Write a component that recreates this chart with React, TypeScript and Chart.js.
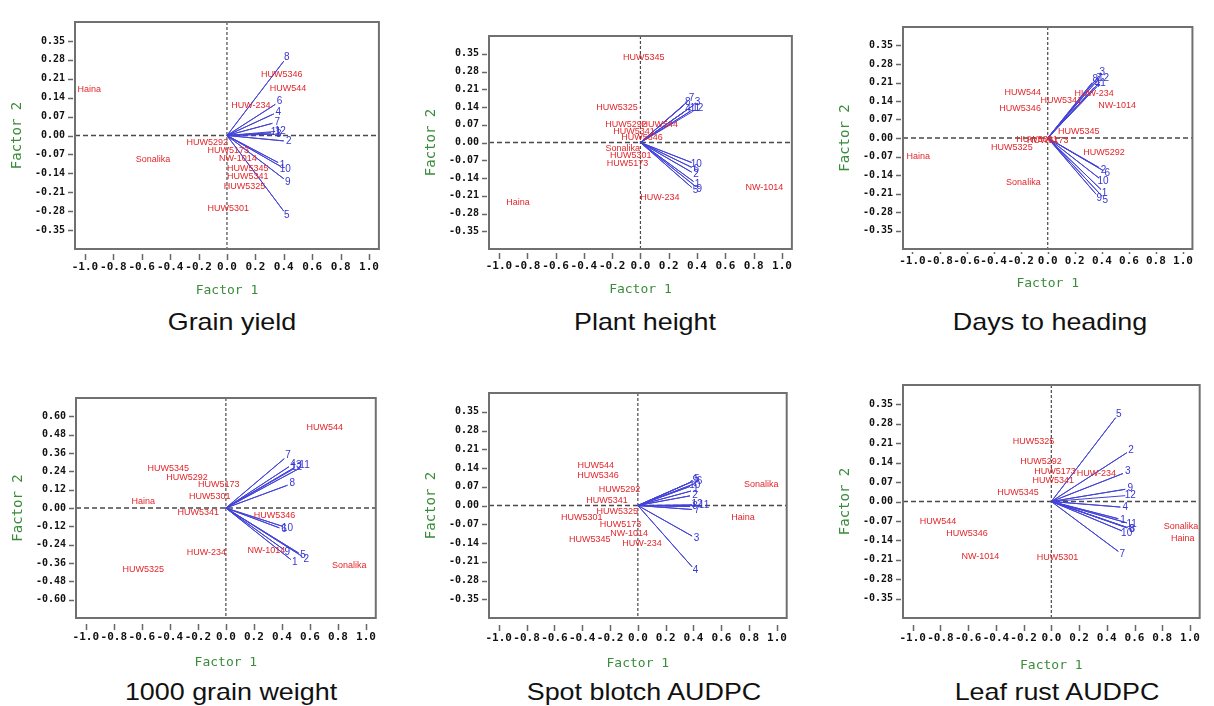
import React, { useEffect, useRef } from 'react';
import { Chart, registerables } from 'chart.js';

Chart.register(...registerables);

// ---------- shared labels ----------
const GENOTYPES = ['Haina', 'Sonalika', 'HUW544', 'HUW5346', 'HUW5345', 'HUW5325', 'HUW5292', 'HUW5173', 'HUW5301', 'HUW5341', 'HUW-234', 'NW-1014'];
const ENVIRONMENTS = ['1', '2', '3', '4', '5', '6', '7', '8', '9', '10', '11', '12'];

const X_TICKS = [-1.0, -0.8, -0.6, -0.4, -0.2, 0, 0.2, 0.4, 0.6, 0.8, 1.0];
const Y_TICKS_SMALL = [0.35, 0.28, 0.21, 0.14, 0.07, 0, -0.07, -0.14, -0.21, -0.28, -0.35];
const Y_TICKS_WIDE = [0.6, 0.48, 0.36, 0.24, 0.12, 0, -0.12, -0.24, -0.36, -0.48, -0.6];

// ---------- Grain yield ----------
const grainYieldGenoX = [-0.97, -0.52, 0.43, 0.386, 0.146, 0.123, -0.139, 0.009, 0.009, 0.146, 0.169, 0.077];
const grainYieldGenoY = [0.17, -0.09, 0.173, 0.224, -0.121, -0.188, -0.026, -0.057, -0.27, -0.151, 0.11, -0.087];
const grainYieldEnvX = [0.36, 0.4, 0.33, 0.33, 0.4, 0.34, 0.32, 0.4, 0.4, 0.38, 0.31, 0.34];
const grainYieldEnvY = [-0.1, -0.02, 0.005, 0.08, -0.28, 0.115, 0.045, 0.275, -0.16, -0.115, 0.01, 0.015];

// ---------- Plant height ----------
const plantHeightGenoX = [-0.865, -0.125, 0.137, 0.011, 0.023, -0.166, -0.102, -0.091, -0.068, -0.046, 0.137, 0.876];
const plantHeightGenoY = [-0.237, -0.024, 0.07, 0.018, 0.334, 0.139, 0.07, -0.084, -0.053, 0.043, -0.215, -0.178];
const plantHeightEnvX = [0.375, 0.362, 0.375, 0.307, 0.362, 0.362, 0.334, 0.307, 0.389, 0.362, 0.355, 0.375];
const plantHeightEnvY = [-0.154, -0.117, 0.147, 0.12, -0.177, -0.098, 0.162, 0.147, -0.173, -0.079, 0.124, 0.124];

// ---------- Days to heading ----------
const headingGenoX = [-0.958, -0.18, -0.185, -0.204, 0.229, -0.265, 0.416, 0.0, -0.08, 0.1, 0.343, 0.513];
const headingGenoY = [-0.071, -0.17, 0.173, 0.113, 0.025, -0.037, -0.055, -0.008, -0.004, 0.143, 0.17, 0.122];
const headingEnvX = [0.394, 0.38, 0.38, 0.343, 0.401, 0.409, 0.358, 0.328, 0.358, 0.38, 0.365, 0.387];
const headingEnvY = [-0.195, -0.112, 0.235, 0.191, -0.22, -0.123, 0.213, 0.209, -0.213, -0.152, 0.195, 0.213];

// ---------- 1000 grain weight ----------
const grainWeightGenoX = [-0.59, 0.88, 0.706, 0.347, -0.412, -0.59, -0.278, -0.051, -0.116, -0.197, -0.139, 0.289];
const grainWeightGenoY = [0.044, -0.379, 0.526, -0.05, 0.26, -0.404, 0.197, 0.155, 0.077, -0.027, -0.291, -0.278];
const grainWeightEnvX = [0.463, 0.544, 0.49, 0.45, 0.52, 0.382, 0.417, 0.44, 0.41, 0.405, 0.53, 0.474];
const grainWeightEnvY = [-0.337, -0.316, 0.265, 0.27, -0.295, -0.13, 0.323, 0.149, -0.27, -0.12, 0.262, 0.25];

// ---------- Spot blotch AUDPC ----------
const spotBlotchGenoX = [0.755, 0.887, -0.303, -0.287, -0.345, -0.148, -0.132, -0.125, -0.403, -0.222, 0.03, -0.0625];
const spotBlotchGenoY = [-0.044, 0.079, 0.15, 0.113, -0.127, -0.024, 0.061, -0.07, -0.044, 0.018, -0.143, -0.104];
const spotBlotchEnvX = [0.382, 0.375, 0.39, 0.39, 0.39, 0.41, 0.39, 0.375, 0.38, 0.375, 0.44, 0.39];
const spotBlotchEnvY = [0.054, 0.036, -0.114, -0.229, 0.089, 0.082, -0.015, -0.004, 0.087, 0.071, 0.0, 0.003];

// ---------- Leaf rust AUDPC ----------
const leafRustGenoX = [0.948, 0.936, -0.817, -0.609, -0.24, -0.129, -0.074, 0.026, 0.044, 0.014, 0.325, -0.512];
const leafRustGenoY = [-0.134, -0.089, -0.071, -0.117, 0.034, 0.218, 0.144, 0.107, -0.201, 0.076, 0.101, -0.2];
const leafRustEnvX = [0.483, 0.545, 0.517, 0.498, 0.464, 0.545, 0.483, 0.55, 0.533, 0.51, 0.545, 0.533];
const leafRustEnvY = [-0.062, 0.176, 0.101, -0.02, 0.302, -0.095, -0.18, -0.094, 0.044, -0.106, -0.077, 0.021];

const RED = '#e3262b';
const BLUE = '#3636d4';
const LINE_BLUE = '#4343d8';
const GREEN = '#3a8c3a';
const FRAME = '#707070';

const PANELS = [
  { title: 'Grain yield', gx: grainYieldGenoX, gy: grainYieldGenoY, ex: grainYieldEnvX, ey: grainYieldEnvY, yTicks: Y_TICKS_SMALL, yMax: 0.42, frame: { l: 75, t: 12, r: 388, b: 249 }, lab: 18, d: 41, titleBase: 330 },
  { title: 'Plant height', gx: plantHeightGenoX, gy: plantHeightGenoY, ex: plantHeightEnvX, ey: plantHeightEnvY, yTicks: Y_TICKS_SMALL, yMax: 0.42, frame: { l: 489, t: 26, r: 800, b: 249 }, lab: 17, d: 40, titleBase: 330 },
  { title: 'Days to heading', gx: headingGenoX, gy: headingGenoY, ex: headingEnvX, ey: headingEnvY, yTicks: Y_TICKS_SMALL, yMax: 0.42, frame: { l: 903, t: 17, r: 1196, b: 249 }, lab: 12, d: 34, titleBase: 330 },
  { title: '1000 grain weight', gx: grainWeightGenoX, gy: grainWeightGenoY, ex: grainWeightEnvX, ey: grainWeightEnvY, yTicks: Y_TICKS_WIDE, yMax: 0.72, frame: { l: 76, t: 388, r: 386, b: 618 }, lab: 19, d: 44, titleBase: 700 },
  { title: 'Spot blotch AUDPC', gx: spotBlotchGenoX, gy: spotBlotchGenoY, ex: spotBlotchEnvX, ey: spotBlotchEnvY, yTicks: Y_TICKS_SMALL, yMax: 0.42, frame: { l: 489, t: 383, r: 798, b: 618 }, lab: 20, d: 45, titleBase: 700 },
  { title: 'Leaf rust AUDPC', gx: leafRustGenoX, gy: leafRustGenoY, ex: leafRustEnvX, ey: leafRustEnvY, yTicks: Y_TICKS_SMALL, yMax: 0.42, frame: { l: 903, t: 375, r: 1211, b: 618 }, lab: 20, d: 47, titleBase: 700 },
];

const AXIS_W = 75;
const PAD_TOP = 6;
const PAD_RIGHT = 3;
const MONO = '"DejaVu Sans Mono", monospace';
const SANS = '"Liberation Sans", Arial, sans-serif';

function Panel({ p }: { p: any }) {
  const ref = useRef<HTMLCanvasElement | null>(null);
  const f = p.frame;
  const xAxisH = p.d + 12;
  const cw = f.r - f.l + AXIS_W + PAD_RIGHT;
  const ch = PAD_TOP + (f.b - f.t) + xAxisH;
  const left = f.l - AXIS_W;
  const top = f.t - PAD_TOP;

  useEffect(() => {
    const canvas = ref.current;
    if (!canvas) return;
    const vec: { x: number; y: number }[] = [];
    p.ex.forEach((x: number, i: number) => {
      vec.push({ x: 0, y: 0 });
      vec.push({ x, y: p.ey[i] });
    });

    const plugin = {
      id: 'biplot',
      beforeDatasetsDraw(chart: any) {
        const { ctx, chartArea: a, scales } = chart;
        const xs = scales.x, ys = scales.y;
        const x0 = xs.getPixelForValue(0);
        const y0 = ys.getPixelForValue(0);
        ctx.save();
        ctx.strokeStyle = '#4a4a4a';
        ctx.lineWidth = 1.5;
        ctx.setLineDash([5, 3]);
        ctx.beginPath();
        ctx.moveTo(a.left, y0);
        ctx.lineTo(a.right, y0);
        ctx.stroke();
        ctx.lineWidth = 1.2;
        ctx.setLineDash([3, 2]);
        ctx.beginPath();
        ctx.moveTo(x0, a.top);
        ctx.lineTo(x0, a.bottom);
        ctx.stroke();
        ctx.setLineDash([]);
        // tick marks
        ctx.strokeStyle = '#666';
        ctx.lineWidth = 1.5;
        const t2 = a.bottom + p.lab - 7;
        const t1 = Math.max(a.bottom + 3, t2 - 6);
        X_TICKS.forEach((v) => {
          const px = Math.round(xs.getPixelForValue(v)) + 0.5;
          ctx.beginPath();
          ctx.moveTo(px, t1);
          ctx.lineTo(px, t2);
          ctx.stroke();
        });
        p.yTicks.forEach((v: number) => {
          const py = Math.round(ys.getPixelForValue(v)) + 0.5;
          ctx.beginPath();
          ctx.moveTo(a.left - 7, py);
          ctx.lineTo(a.left - 2, py);
          ctx.stroke();
        });
        ctx.restore();
      },
      afterDatasetsDraw(chart: any) {
        const { ctx, chartArea: a, scales } = chart;
        const xs = scales.x, ys = scales.y;
        const x0 = xs.getPixelForValue(0);
        const y0 = ys.getPixelForValue(0);
        ctx.save();
        // frame
        ctx.strokeStyle = FRAME;
        ctx.lineWidth = 2;
        ctx.strokeRect(a.left, a.top, a.right - a.left, a.bottom - a.top);
        ctx.textAlign = 'center';
        ctx.textBaseline = 'middle';
        // genotype labels
        ctx.fillStyle = RED;
        ctx.font = `9px ${SANS}`;
        GENOTYPES.forEach((g, i) => {
          ctx.fillText(g, xs.getPixelForValue(p.gx[i]), ys.getPixelForValue(p.gy[i]));
        });
        // environment labels
        ctx.fillStyle = BLUE;
        ctx.font = `10px ${SANS}`;
        ENVIRONMENTS.forEach((e, i) => {
          const px = xs.getPixelForValue(p.ex[i]);
          const py = ys.getPixelForValue(p.ey[i]);
          const dx = px - x0, dy = py - y0;
          const len = Math.hypot(dx, dy) || 1;
          ctx.fillText(e, px + (dx / len) * 5, py + (dy / len) * 5);
        });
        ctx.restore();
      },
    };

    const chart = new Chart(canvas, {
      type: 'scatter',
      data: {
        datasets: [
          {
            data: vec,
            showLine: true,
            borderColor: LINE_BLUE,
            borderWidth: 1,
            pointRadius: 0,
            pointHoverRadius: 0,
            tension: 0,
          },
        ],
      },
      options: {
        animation: false,
        responsive: false,
        maintainAspectRatio: false,
        devicePixelRatio: 1,
        events: [],
        layout: { padding: { top: PAD_TOP, right: PAD_RIGHT, left: 0, bottom: 0 } },
        plugins: { legend: { display: false }, tooltip: { enabled: false }, title: { display: false } },
        scales: {
          x: {
            type: 'linear',
            position: 'bottom',
            min: -1.07,
            max: 1.07,
            afterBuildTicks: (s: any) => {
              s.ticks = X_TICKS.map((v) => ({ value: v }));
            },
            afterFit: (s: any) => {
              s.height = xAxisH;
            },
            grid: { display: false, drawTicks: false },
            border: { display: false },
            ticks: {
              autoSkip: false,
              maxRotation: 0,
              minRotation: 0,
              padding: p.lab - 6,
              color: '#111',
              font: { family: MONO, size: 11, weight: 'bold' },
              callback: (v: any) => Number(v).toFixed(1),
            },
            title: {
              display: true,
              text: 'Factor 1',
              color: GREEN,
              font: { family: MONO, size: 13 },
              padding: { top: 0, bottom: 4 },
            },
          },
          y: {
            type: 'linear',
            position: 'left',
            min: -p.yMax,
            max: p.yMax,
            afterBuildTicks: (s: any) => {
              s.ticks = p.yTicks.map((v: number) => ({ value: v }));
            },
            afterFit: (s: any) => {
              s.width = AXIS_W;
            },
            grid: { display: false, drawTicks: false },
            border: { display: false },
            ticks: {
              autoSkip: false,
              padding: 10,
              color: '#111',
              font: { family: MONO, size: 10, weight: 'bold' },
              callback: (v: any) => Number(v).toFixed(2),
            },
            title: {
              display: true,
              text: 'Factor 2',
              color: GREEN,
              font: { family: MONO, size: 14 },
              padding: { top: 8.6, bottom: 0 },
            },
          },
        },
      },
      plugins: [plugin],
    } as any);
    return () => chart.destroy();
  }, []);

  const originX = f.l + ((f.r - f.l) * 1.07) / 2.14;
  return (
    <>
      <canvas
        ref={ref}
        width={cw}
        height={ch}
        style={{ position: 'absolute', left, top, width: cw, height: ch }}
      />
      <div
        style={{
          position: 'absolute',
          left: originX - 200,
          width: 400,
          top: p.titleBase - 22.3,
          height: 28,
          lineHeight: '28px',
          fontFamily: SANS,
          fontSize: 24,
          color: '#111',
          textAlign: 'center',
          whiteSpace: 'nowrap',
          transform: 'scaleX(1.12)',
        }}
      >
        {p.title}
      </div>
    </>
  );
}

export default function App() {
  return (
    <div
      style={{
        position: 'absolute',
        left: 0,
        top: 0,
        width: 1214,
        height: 706,
        background: '#fff',
        overflow: 'hidden',
      }}
    >
      {PANELS.map((p) => (
        <Panel key={p.title} p={p} />
      ))}
    </div>
  );
}
